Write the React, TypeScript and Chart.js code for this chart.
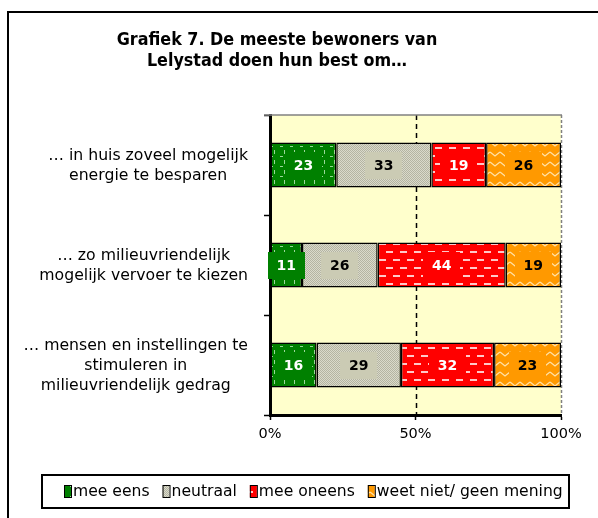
import React, { useEffect, useRef } from 'react';
import { Chart, registerables } from 'chart.js';

Chart.register(...registerables);

const titleLines = ['Grafiek 7. De meeste bewoners van', 'Lelystad doen hun best om…'];
const categories = [
  ['… in huis zoveel mogelijk', 'energie te besparen'],
  ['… zo milieuvriendelijk', 'mogelijk vervoer te kiezen'],
  ['… mensen en instellingen te', 'stimuleren in', 'milieuvriendelijk gedrag'],
];
const seriesNames = ['mee eens', 'neutraal', 'mee oneens', 'weet niet/ geen mening'];
const meeEens = [23, 11, 16];
const neutraal = [33, 26, 29];
const meeOneens = [19, 44, 32];
const weetNiet = [26, 19, 23];
const xTickValues = [0, 50, 100];
const xTickLabels = ['0%', '50%', '100%'];

const FONT = '"DejaVu Sans", Verdana, sans-serif';
const TITLE_FONT = '"DejaVu Sans Condensed", "DejaVu Sans", sans-serif';
const baseColors = ['#008000', '#CBCBB4', '#FF0000', '#FF9900'];
const labelColors = ['#FFFFFF', '#000000', '#FFFFFF', '#000000'];

function makePattern(kind: number): CanvasPattern | string {
  const c = document.createElement('canvas');
  const g = c.getContext('2d');
  if (!g) return baseColors[kind];
  if (kind === 0) {
    c.width = 10; c.height = 10;
    g.fillStyle = '#008000'; g.fillRect(0, 0, 10, 10);
    g.fillStyle = '#9AD79A';
    g.fillRect(4, 0, 1, 4);
    g.fillRect(0, 6, 3, 1);
  } else if (kind === 1) {
    c.width = 2; c.height = 2;
    g.fillStyle = '#DADACB'; g.fillRect(0, 0, 2, 2);
    g.fillStyle = '#B4B4A2'; g.fillRect(0, 0, 1, 1); g.fillRect(1, 1, 1, 1);
  } else if (kind === 2) {
    c.width = 14; c.height = 16;
    g.fillStyle = '#FF0000'; g.fillRect(0, 0, 14, 16);
    g.fillStyle = '#FFC8C8';
    g.fillRect(1, 3, 7, 2);
    g.fillRect(8, 11, 6, 2);
    g.fillRect(0, 11, 1, 2);
  } else {
    c.width = 10; c.height = 10;
    g.fillStyle = '#FF9900'; g.fillRect(0, 0, 10, 10);
    g.strokeStyle = '#FFE2A8'; g.lineWidth = 1.3;
    g.beginPath(); g.moveTo(0, 2); g.lineTo(5, 6); g.lineTo(10, 2); g.stroke();
  }
  return g.createPattern(c, 'repeat') || baseColors[kind];
}

export default function App() {
  const ref = useRef<HTMLCanvasElement>(null);
  useEffect(() => {
    const prevMargin = document.body.style.margin;
    document.body.style.margin = '0';
    const canvas = ref.current;
    if (!canvas) return;
    const series = [meeEens, neutraal, meeOneens, weetNiet];
    const totals = categories.map((_, i) => series.reduce((s, arr) => s + arr[i], 0));
    const pats = [0, 1, 2, 3].map((k) => makePattern(k));

    const framePlugin = {
      id: 'frame',
      beforeDraw(chart: any) {
        const ctx = chart.ctx;
        const { left, right, top, bottom } = chart.chartArea;
        ctx.save();
        ctx.fillStyle = '#FFFFFF';
        ctx.fillRect(0, 0, chart.width, chart.height);
        // outer frame
        ctx.strokeStyle = '#000';
        ctx.lineWidth = 2;
        ctx.strokeRect(8, 12, 600, 520);
        // title
        ctx.fillStyle = '#000';
        let size = 18;
        ctx.font = `bold ${size}px ${TITLE_FONT}`;
        while (ctx.measureText(titleLines[0]).width > 322 && size > 12) {
          size -= 0.25;
          ctx.font = `bold ${size}px ${TITLE_FONT}`;
        }
        ctx.textAlign = 'center';
        ctx.textBaseline = 'middle';
        titleLines.forEach((t, i) => ctx.fillText(t, 277, 40 + i * 21));
        // plot area
        ctx.fillStyle = '#FFFFCC';
        ctx.fillRect(left, top, right - left, bottom - top);
        ctx.restore();
      },
      beforeDatasetsDraw(chart: any) {
        const ctx = chart.ctx;
        const { left, right, top, bottom } = chart.chartArea;
        const xs = chart.scales.x;
        ctx.save();
        ctx.strokeStyle = '#000';
        ctx.lineWidth = 1.5;
        ctx.setLineDash([5, 4]);
        const xm = Math.round(xs.getPixelForValue(50)) + 0.5;
        ctx.beginPath(); ctx.moveTo(xm, top); ctx.lineTo(xm, bottom); ctx.stroke();
        ctx.strokeStyle = '#808080';
        ctx.setLineDash([3, 2]);
        ctx.beginPath(); ctx.moveTo(right + 0.5, top); ctx.lineTo(right + 0.5, bottom); ctx.stroke();
        ctx.setLineDash([]);
        ctx.lineWidth = 1.5;
        ctx.beginPath(); ctx.moveTo(left - 6, top); ctx.lineTo(right + 1, top); ctx.stroke();
        ctx.restore();
      },
      afterDatasetsDraw(chart: any) {
        const ctx = chart.ctx;
        ctx.save();
        ctx.font = `bold 14px ${FONT}`;
        ctx.textAlign = 'center';
        ctx.textBaseline = 'middle';
        chart.data.datasets.forEach((ds: any, di: number) => {
          const meta = chart.getDatasetMeta(di);
          meta.data.forEach((bar: any, i: number) => {
            const cx = (bar.x + bar.base) / 2;
            const cy = bar.y;
            const txt = String(series[di][i]);
            const w = ctx.measureText(txt).width + 18;
            const h = 27;
            ctx.fillStyle = baseColors[di];
            ctx.fillRect(Math.round(cx - w / 2), Math.round(cy - h / 2), Math.round(w), h);
            ctx.fillStyle = labelColors[di];
            ctx.fillText(txt, cx, cy + 1);
          });
        });
        ctx.restore();
      },
      afterDraw(chart: any) {
        const ctx = chart.ctx;
        const ys = chart.scales.y;
        ctx.save();
        // category labels
        ctx.font = `15.7px ${FONT}`;
        ctx.fillStyle = '#000';
        ctx.textAlign = 'center';
        ctx.textBaseline = 'middle';
        const rightEdge = 248;
        const lh = 20;
        categories.forEach((lines, i) => {
          const widest = Math.max(...lines.map((l) => ctx.measureText(l).width));
          const cx = rightEdge - widest / 2;
          const cy = ys.getPixelForValue(i) + 1;
          lines.forEach((l, j) => {
            ctx.fillText(l, cx, cy + (j - (lines.length - 1) / 2) * lh);
          });
        });
        // legend
        ctx.strokeStyle = '#000';
        ctx.lineWidth = 2;
        ctx.fillStyle = '#FFF';
        ctx.fillRect(42, 475, 527, 33);
        ctx.strokeRect(42, 475, 527, 33);
        ctx.font = `15.6px ${FONT}`;
        ctx.textAlign = 'left';
        let x = 64;
        const ly = 491;
        seriesNames.forEach((name, k) => {
          ctx.fillStyle = pats[k];
          ctx.fillRect(x, ly - 6, 7, 12);
          ctx.lineWidth = 1;
          ctx.strokeStyle = '#000';
          ctx.strokeRect(x + 0.5, ly - 5.5, 7, 12);
          ctx.fillStyle = '#000';
          ctx.fillText(name, x + 9, ly + 1);
          x += 9 + ctx.measureText(name).width + 13;
        });
        ctx.restore();
      },
    };

    const chart = new Chart(canvas, {
      type: 'bar',
      data: {
        labels: categories.map((c) => c.join(' ')),
        datasets: seriesNames.map((name, k) => ({
          label: name,
          data: series[k].map((v, i) => (v / totals[i]) * 100),
          backgroundColor: pats[k] as any,
          borderColor: '#000',
          borderWidth: 1.5,
          borderSkipped: false,
          barPercentage: 0.45,
          categoryPercentage: 1,
        })),
      },
      options: {
        indexAxis: 'y',
        responsive: false,
        animation: false,
        devicePixelRatio: 1,
        layout: { padding: { top: 115, right: 37, left: 0, bottom: 0 } },
        plugins: {
          legend: { display: false },
          title: { display: false },
          tooltip: { enabled: false },
        },
        scales: {
          x: {
            stacked: true,
            min: 0,
            max: 100,
            afterBuildTicks(scale: any) {
              scale.ticks = xTickValues.map((v) => ({ value: v }));
            },
            afterFit(scale: any) {
              scale.height = 103;
            },
            ticks: {
              callback: (_v: any, i: number) => xTickLabels[i],
              font: { family: FONT, size: 14.5 },
              color: '#000',
              padding: 6,
              maxRotation: 0,
            },
            grid: {
              drawOnChartArea: false,
              drawTicks: true,
              tickLength: 5,
              tickColor: '#000',
              tickWidth: 1.5,
            },
            border: { display: true, color: '#000', width: 3 },
          },
          y: {
            stacked: true,
            afterFit(scale: any) {
              scale.width = 270;
            },
            ticks: { display: false },
            grid: {
              drawOnChartArea: false,
              drawTicks: true,
              tickLength: 6,
              tickColor: '#000',
              tickWidth: 1.5,
              offset: true,
            },
            border: { display: true, color: '#000', width: 3 },
          },
        },
      },
      plugins: [framePlugin],
    } as any);

    return () => {
      chart.destroy();
      document.body.style.margin = prevMargin;
    };
  }, []);

  return (
    <div style={{ position: 'relative', width: 598, height: 518 }}>
      <canvas ref={ref} width={598} height={518} style={{ display: 'block', width: 598, height: 518 }} />
    </div>
  );
}
